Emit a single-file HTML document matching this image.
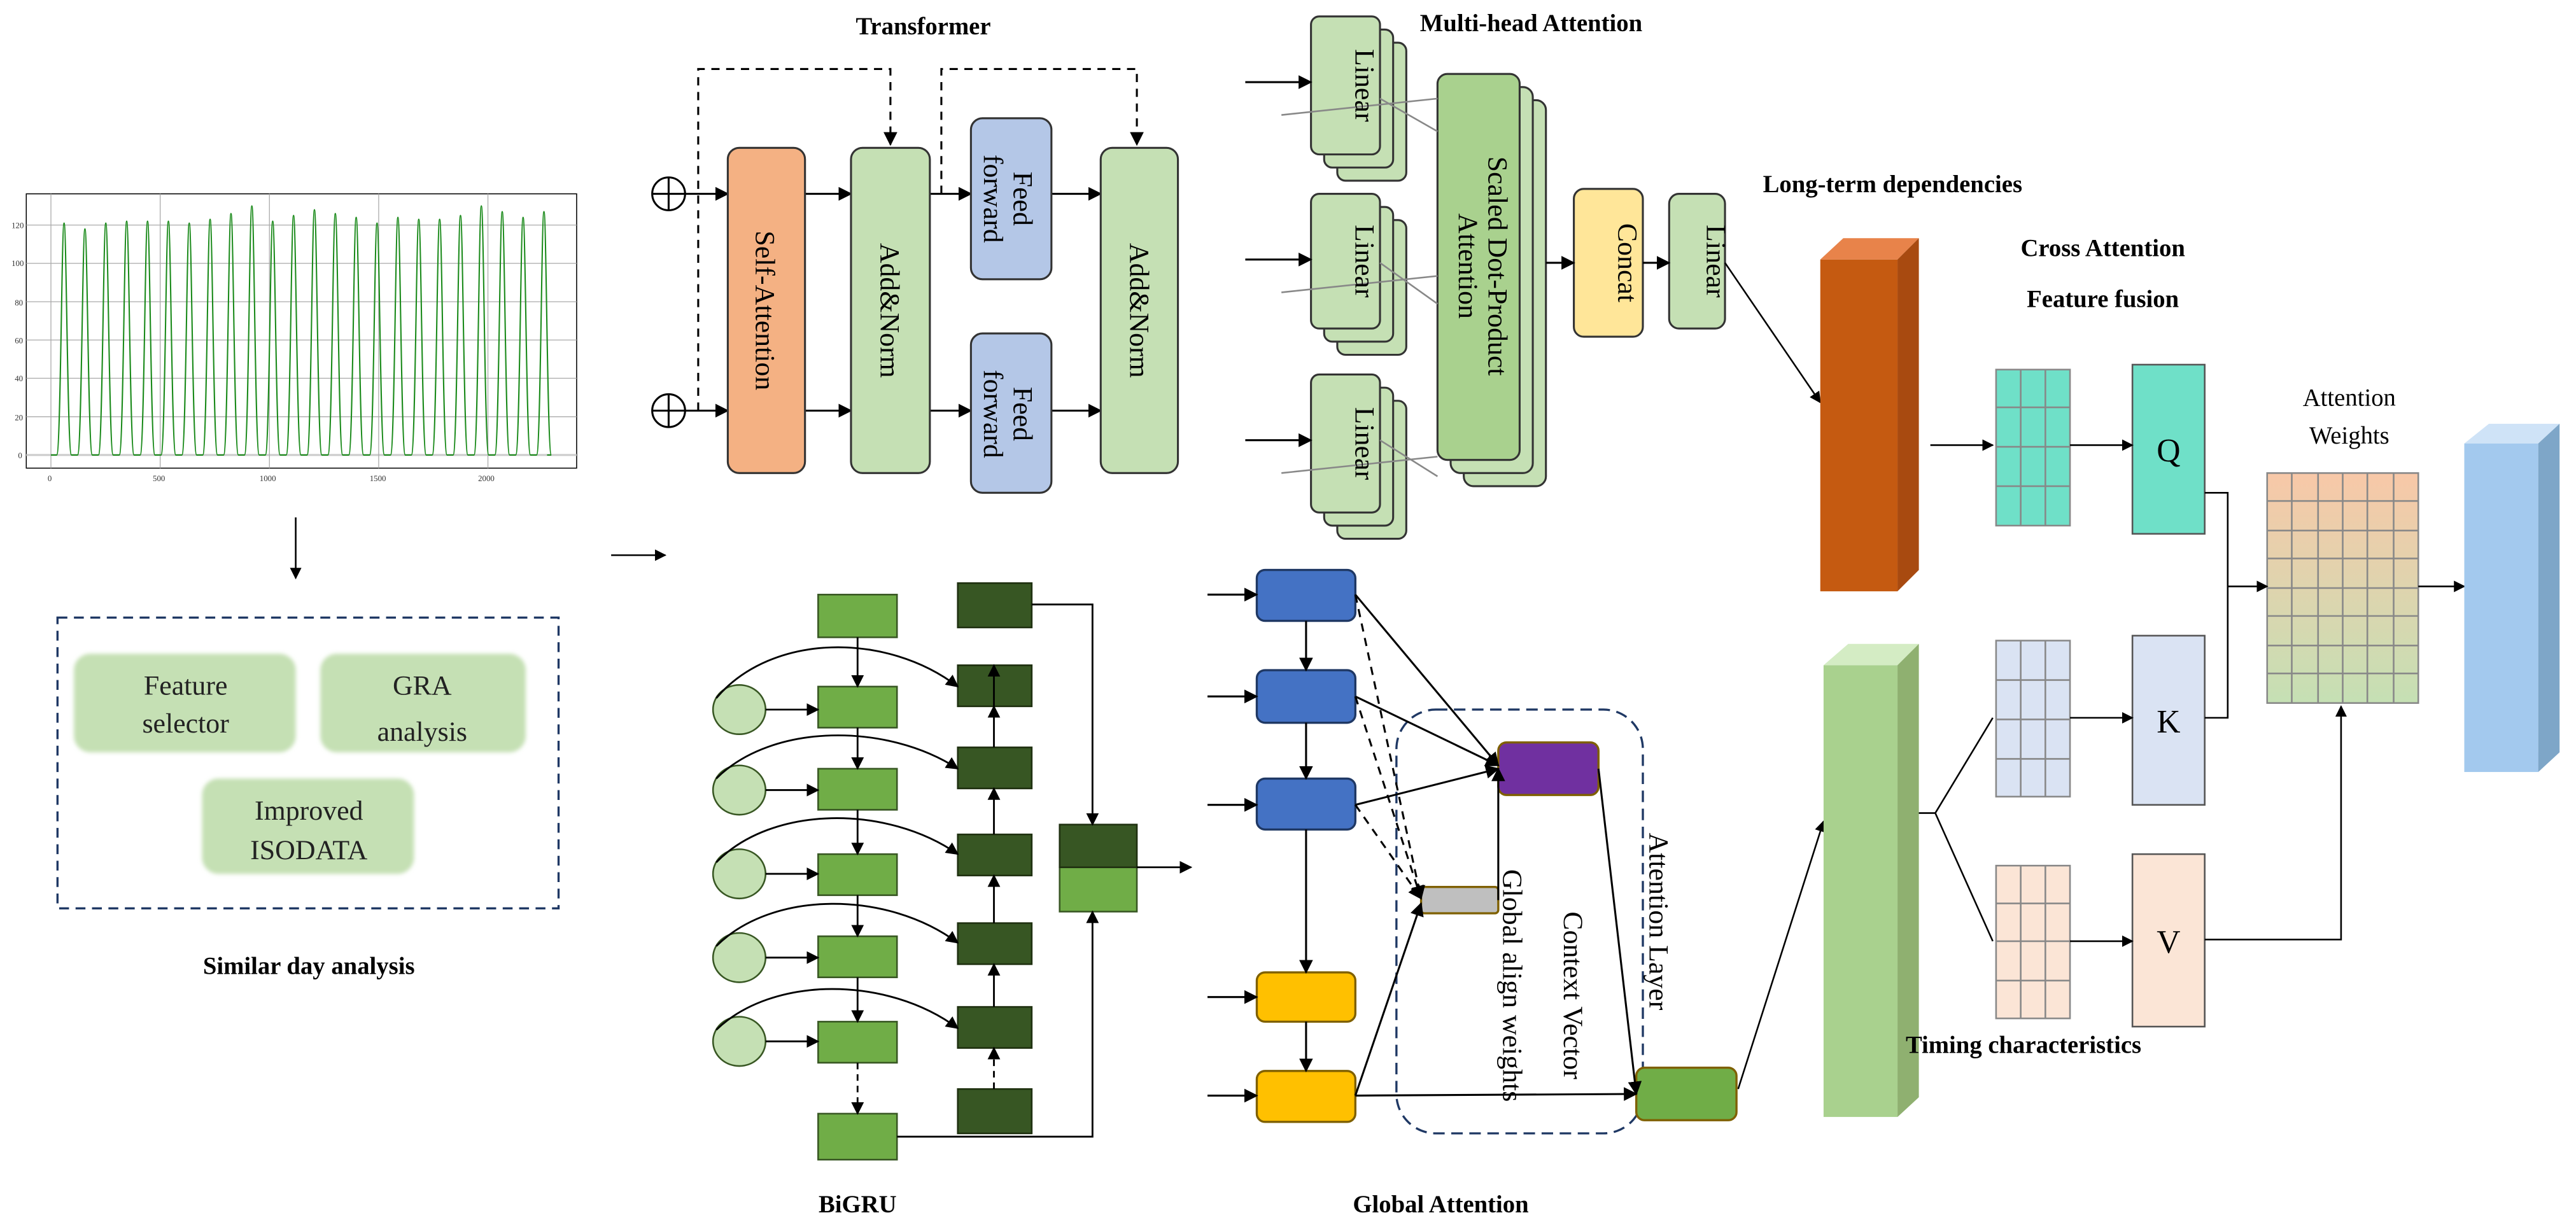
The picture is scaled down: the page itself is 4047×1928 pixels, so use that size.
<!DOCTYPE html>
<html><head><meta charset="utf-8"><style>
html,body{margin:0;padding:0;background:#fff;}
svg{display:block;}
text{font-family:"Liberation Serif",serif;}
.b{font-weight:bold;font-size:15px;}
.l{font-size:17px;}
</style></head><body>
<svg width="4047" height="1928" viewBox="0 0 1568 747" preserveAspectRatio="none" xmlns="http://www.w3.org/2000/svg">
<defs>
<marker id="a" viewBox="0 0 10 10" refX="9" refY="5" markerWidth="7" markerHeight="7" orient="auto-start-reverse"><path d="M0,0L10,5L0,10z" fill="#000"/></marker>
<linearGradient id="gw" x1="0" y1="0" x2="0" y2="1"><stop offset="0" stop-color="#f8c8a8"/><stop offset="1" stop-color="#c5e0b4"/></linearGradient>
<filter id="soft"><feGaussianBlur stdDeviation="1.2"/></filter>
</defs>
<rect width="1568" height="747" fill="#fff"/>

<!-- chart -->
<g>
<rect x="16" y="118" width="335" height="167" fill="#fff" stroke="#000" stroke-width="0.6"/>
<g stroke="#aaa" stroke-width="0.5">
<line x1="16" y1="137" x2="351" y2="137"/><line x1="16" y1="160.3" x2="351" y2="160.3"/><line x1="16" y1="183.7" x2="351" y2="183.7"/><line x1="16" y1="207" x2="351" y2="207"/><line x1="16" y1="230.3" x2="351" y2="230.3"/><line x1="16" y1="253.7" x2="351" y2="253.7"/><line x1="16" y1="277" x2="351" y2="277" stroke="#ccc" stroke-width="1.2"/>
<line x1="31" y1="118" x2="31" y2="285"/><line x1="97.5" y1="118" x2="97.5" y2="285"/><line x1="164" y1="118" x2="164" y2="285"/><line x1="230.5" y1="118" x2="230.5" y2="285"/><line x1="297" y1="118" x2="297" y2="285"/>
</g>
<g font-size="5" fill="#333" font-family="Liberation Sans,sans-serif">
<text x="7" y="139">120</text><text x="7" y="162">100</text><text x="9" y="186">80</text><text x="9" y="209">60</text><text x="9" y="232">40</text><text x="9" y="256">20</text><text x="11" y="279">0</text>
<text x="29" y="293">0</text><text x="93" y="293">500</text><text x="158" y="293">1000</text><text x="225" y="293">1500</text><text x="291" y="293">2000</text>
</g>
<path id="wave" fill="none" stroke="#1a8a1a" stroke-width="0.8" d=""/>
</g>
<line x1="180" y1="315" x2="180" y2="352" stroke="#000" stroke-width="1" marker-end="url(#a)"/>

<!-- similar day -->
<rect x="35" y="376" width="305" height="177" fill="none" stroke="#1f3864" stroke-width="1.3" stroke-dasharray="6,4"/>
<g fill="#c5e0b4" filter="url(#soft)">
<rect x="45" y="398" width="135" height="60" rx="10"/><rect x="195" y="398" width="125" height="60" rx="10"/><rect x="123" y="474" width="129" height="58" rx="10"/>
</g>
<g class="l" text-anchor="middle" fill="#222">
<text x="113" y="423">Feature</text><text x="113" y="446">selector</text>
<text x="257" y="423">GRA</text><text x="257" y="451">analysis</text>
<text x="188" y="499">Improved</text><text x="188" y="523">ISODATA</text>
</g>
<text x="188" y="593" class="b" text-anchor="middle">Similar day analysis</text>
<line x1="372" y1="338" x2="405" y2="338" stroke="#000" marker-end="url(#a)"/>

<!-- Transformer -->
<text x="562" y="21" class="b" text-anchor="middle">Transformer</text>
<g fill="none" stroke="#000" stroke-width="1.2">
<circle cx="407" cy="118" r="10"/><line x1="397" y1="118" x2="417" y2="118"/><line x1="407" y1="108" x2="407" y2="128"/>
<circle cx="407" cy="250" r="10"/><line x1="397" y1="250" x2="417" y2="250"/><line x1="407" y1="240" x2="407" y2="260"/>
</g>
<g stroke="#000" stroke-width="1.2" fill="none">
<line x1="417" y1="118" x2="443" y2="118" marker-end="url(#a)"/>
<line x1="417" y1="250" x2="443" y2="250" marker-end="url(#a)"/>
<line x1="490" y1="118" x2="518" y2="118" marker-end="url(#a)"/>
<line x1="490" y1="250" x2="518" y2="250" marker-end="url(#a)"/>
<line x1="566" y1="118" x2="591" y2="118" marker-end="url(#a)"/>
<line x1="566" y1="250" x2="591" y2="250" marker-end="url(#a)"/>
<line x1="640" y1="118" x2="670" y2="118" marker-end="url(#a)"/>
<line x1="640" y1="250" x2="670" y2="250" marker-end="url(#a)"/>
<path d="M425,250V42H542V88" stroke-dasharray="5,4" marker-end="url(#a)"/>
<path d="M573,118V42H692V88" stroke-dasharray="5,4" marker-end="url(#a)"/>
</g>
<g stroke="#333" stroke-width="1.2">
<rect x="443" y="90" width="47" height="198" rx="7" fill="#f4b183"/>
<rect x="518" y="90" width="48" height="198" rx="7" fill="#c5e0b4"/>
<rect x="591" y="72" width="49" height="98" rx="7" fill="#b4c7e7"/>
<rect x="591" y="203" width="49" height="97" rx="7" fill="#b4c7e7"/>
<rect x="670" y="90" width="47" height="198" rx="7" fill="#c5e0b4"/>
</g>
<g class="l" text-anchor="middle">
<text transform="translate(460,189) rotate(90)">Self-Attention</text>
<text transform="translate(536,189) rotate(90)">Add&amp;Norm</text>
<text transform="translate(688,189) rotate(90)">Add&amp;Norm</text>
<text transform="translate(617,121) rotate(90)">Feed</text><text transform="translate(599,121) rotate(90)">forward</text>
<text transform="translate(617,252) rotate(90)">Feed</text><text transform="translate(599,252) rotate(90)">forward</text>
</g>

<!-- Multi-head -->
<text x="932" y="19" class="b" text-anchor="middle">Multi-head Attention</text>
<g stroke="#333" stroke-width="1.2" fill="#c5e0b4">
<rect x="814" y="26" width="42" height="84" rx="5"/><rect x="806" y="18" width="42" height="84" rx="5"/><rect x="798" y="10" width="42" height="84" rx="5"/>
<rect x="814" y="134" width="42" height="82" rx="5"/><rect x="806" y="126" width="42" height="82" rx="5"/><rect x="798" y="118" width="42" height="82" rx="5"/>
<rect x="814" y="244" width="42" height="84" rx="5"/><rect x="806" y="236" width="42" height="84" rx="5"/><rect x="798" y="228" width="42" height="84" rx="5"/>
<rect x="891" y="61" width="50" height="235" rx="6"/><rect x="883" y="53" width="50" height="235" rx="6"/><rect x="875" y="45" width="50" height="235" rx="6" fill="#a9d18e"/>
<rect x="958" y="115" width="42" height="90" rx="6" fill="#ffe699"/>
<rect x="1016" y="118" width="34" height="82" rx="6"/>
</g>
<g stroke="#888" stroke-width="1">
<line x1="780" y1="70" x2="875" y2="60"/><line x1="840" y1="60" x2="875" y2="80"/>
<line x1="780" y1="178" x2="875" y2="168"/><line x1="840" y1="160" x2="875" y2="185"/>
<line x1="780" y1="288" x2="875" y2="278"/><line x1="840" y1="268" x2="875" y2="290"/>
</g>
<g stroke="#000" stroke-width="1.2">
<line x1="758" y1="50" x2="798" y2="50" marker-end="url(#a)"/>
<line x1="758" y1="158" x2="798" y2="158" marker-end="url(#a)"/>
<line x1="758" y1="268" x2="798" y2="268" marker-end="url(#a)"/>
<line x1="941" y1="160" x2="958" y2="160" marker-end="url(#a)"/>
<line x1="1000" y1="160" x2="1016" y2="160" marker-end="url(#a)"/>
<line x1="1050" y1="160" x2="1108" y2="245" stroke-width="1" marker-end="url(#a)"/>
</g>
<g class="l" text-anchor="middle">
<text transform="translate(825,52) rotate(90)">Linear</text>
<text transform="translate(825,159) rotate(90)">Linear</text>
<text transform="translate(825,270) rotate(90)">Linear</text>
<text transform="translate(906,162) rotate(90)">Scaled Dot-Product</text>
<text transform="translate(888,162) rotate(90)">Attention</text>
<text transform="translate(985,160) rotate(90)">Concat</text>
<text transform="translate(1039,159) rotate(90)">Linear</text>
</g>
<text x="1152" y="117" class="b" text-anchor="middle">Long-term dependencies</text>

<!-- orange block -->
<polygon points="1108,158 1122,145 1168,145 1155,158" fill="#e8834a"/>
<polygon points="1155,158 1168,145 1168,347 1155,360" fill="#a84a10"/>
<rect x="1108" y="158" width="47" height="202" fill="#c55a11"/>

<text x="1280" y="156" class="b" text-anchor="middle">Cross Attention</text>
<text x="1280" y="187" class="b" text-anchor="middle">Feature fusion</text>

<!-- grids -->
<g stroke="#888" stroke-width="1">
<rect x="1215" y="225" width="45" height="95" fill="#6fe0c8"/>
<rect x="1215" y="390" width="45" height="95" fill="#dae3f3"/>
<rect x="1215" y="527" width="45" height="93" fill="#fbe5d6"/>
<path d="M1230,225V320M1245,225V320M1215,248H1260M1215,272H1260M1215,296H1260" fill="none"/>
<path d="M1230,390V485M1245,390V485M1215,414H1260M1215,438H1260M1215,462H1260" fill="none"/>
<path d="M1230,527V620M1245,527V620M1215,550H1260M1215,573H1260M1215,597H1260" fill="none"/>
<rect x="1298" y="222" width="44" height="103" fill="#6fe0c8" stroke="#555"/>
<rect x="1298" y="387" width="44" height="103" fill="#dae3f3" stroke="#555"/>
<rect x="1298" y="520" width="44" height="105" fill="#fbe5d6" stroke="#555"/>
<rect x="1380" y="288" width="92" height="140" fill="url(#gw)"/>
<path d="M1395,288V428M1411,288V428M1426,288V428M1441,288V428M1457,288V428M1380,305H1472M1380,323H1472M1380,340H1472M1380,358H1472M1380,375H1472M1380,393H1472M1380,410H1472" fill="none"/>
</g>
<g font-size="20" text-anchor="middle" font-family="Liberation Serif,serif">
<text x="1320" y="281">Q</text><text x="1320" y="446">K</text><text x="1320" y="580">V</text>
</g>
<text x="1430" y="247" font-size="15" text-anchor="middle">Attention</text>
<text x="1430" y="270" font-size="15" text-anchor="middle">Weights</text>
<g stroke="#000" stroke-width="1" fill="none">
<line x1="1175" y1="271" x2="1213" y2="271" marker-end="url(#a)"/>
<line x1="1260" y1="271" x2="1298" y2="271" marker-end="url(#a)"/>
<line x1="1260" y1="437" x2="1298" y2="437" marker-end="url(#a)"/>
<line x1="1260" y1="573" x2="1298" y2="573" marker-end="url(#a)"/>
<path d="M1342,300H1356V437H1342"/>
<line x1="1356" y1="357" x2="1380" y2="357" marker-end="url(#a)"/>
<path d="M1342,572H1425V430" marker-end="url(#a)"/>
<line x1="1472" y1="357" x2="1500" y2="357" marker-end="url(#a)"/>
<path d="M1213,437L1178,495L1213,573"/>
<path d="M1160,495H1178"/>
<line x1="1058" y1="663" x2="1110" y2="500" marker-end="url(#a)"/>
</g>
<!-- blue block -->
<polygon points="1500,270 1515,258 1558,258 1545,270" fill="#cfe3f7"/>
<polygon points="1545,270 1558,258 1558,458 1545,470" fill="#7ea6c8"/>
<rect x="1500" y="270" width="45" height="200" fill="#a3c9ee"/>
<!-- green block -->
<polygon points="1110,405 1125,392 1168,392 1155,405" fill="#d4ecc4"/>
<polygon points="1155,405 1168,392 1168,668 1155,680" fill="#8fb070"/>
<rect x="1110" y="405" width="45" height="275" fill="#a9d18e"/>
<text x="1160" y="641" class="b">Timing characteristics</text>

<!-- BiGRU -->
<g fill="#c5e0b4" stroke="#385723" stroke-width="1">
<ellipse cx="450" cy="432" rx="16" ry="15"/><ellipse cx="450" cy="481" rx="16" ry="15"/><ellipse cx="450" cy="532" rx="16" ry="15"/><ellipse cx="450" cy="583" rx="16" ry="15"/><ellipse cx="450" cy="634" rx="16" ry="15"/>
</g>
<g fill="#70ad47" stroke="#385723" stroke-width="1">
<rect x="498" y="362" width="48" height="26"/><rect x="498" y="418" width="48" height="25"/><rect x="498" y="468" width="48" height="25"/><rect x="498" y="520" width="48" height="25"/><rect x="498" y="570" width="48" height="25"/><rect x="498" y="622" width="48" height="25"/><rect x="498" y="678" width="48" height="28"/>
<rect x="645" y="528" width="47" height="27"/>
</g>
<g fill="#375623" stroke="#1f3010" stroke-width="1">
<rect x="583" y="355" width="45" height="27"/><rect x="583" y="405" width="45" height="25"/><rect x="583" y="455" width="45" height="25"/><rect x="583" y="508" width="45" height="25"/><rect x="583" y="562" width="45" height="25"/><rect x="583" y="613" width="45" height="25"/><rect x="583" y="663" width="45" height="27"/>
<rect x="645" y="502" width="47" height="26"/>
</g>
<g stroke="#000" stroke-width="1.1" fill="none">
<line x1="466" y1="432" x2="498" y2="432" marker-end="url(#a)"/><line x1="466" y1="481" x2="498" y2="481" marker-end="url(#a)"/><line x1="466" y1="532" x2="498" y2="532" marker-end="url(#a)"/><line x1="466" y1="583" x2="498" y2="583" marker-end="url(#a)"/><line x1="466" y1="634" x2="498" y2="634" marker-end="url(#a)"/>
<line x1="522" y1="388" x2="522" y2="418" marker-end="url(#a)"/><line x1="522" y1="443" x2="522" y2="468" marker-end="url(#a)"/><line x1="522" y1="493" x2="522" y2="520" marker-end="url(#a)"/><line x1="522" y1="545" x2="522" y2="570" marker-end="url(#a)"/><line x1="522" y1="595" x2="522" y2="622" marker-end="url(#a)"/><line x1="522" y1="647" x2="522" y2="678" stroke-dasharray="4,3" marker-end="url(#a)"/>
<line x1="605" y1="430" x2="605" y2="405" marker-end="url(#a)"/><line x1="605" y1="455" x2="605" y2="430" marker-end="url(#a)"/><line x1="605" y1="508" x2="605" y2="480" marker-end="url(#a)"/><line x1="605" y1="562" x2="605" y2="533" marker-end="url(#a)"/><line x1="605" y1="613" x2="605" y2="587" marker-end="url(#a)"/><line x1="605" y1="663" x2="605" y2="638" stroke-dasharray="4,3" marker-end="url(#a)"/>
<path d="M436,425C470,385 540,385 583,418" marker-end="url(#a)"/>
<path d="M436,474C470,440 540,440 583,468" marker-end="url(#a)"/>
<path d="M436,525C470,490 540,490 583,520" marker-end="url(#a)"/>
<path d="M436,576C470,542 540,542 583,574" marker-end="url(#a)"/>
<path d="M436,627C470,594 540,594 583,626" marker-end="url(#a)"/>
<path d="M628,368H665V502" marker-end="url(#a)"/>
<path d="M546,692H665V555" marker-end="url(#a)"/>
<line x1="692" y1="528" x2="725" y2="528" marker-end="url(#a)"/>
</g>
<text x="522" y="738" class="b" text-anchor="middle">BiGRU</text>

<!-- Global attention -->
<rect x="850" y="432" width="150" height="258" rx="24" fill="none" stroke="#1f3864" stroke-width="1.3" stroke-dasharray="7,4"/>
<g stroke-width="1.3">
<rect x="765" y="347" width="60" height="31" rx="5" fill="#4472c4" stroke="#1f3864"/>
<rect x="765" y="408" width="60" height="32" rx="5" fill="#4472c4" stroke="#1f3864"/>
<rect x="765" y="474" width="60" height="31" rx="5" fill="#4472c4" stroke="#1f3864"/>
<rect x="765" y="592" width="60" height="30" rx="5" fill="#ffc000" stroke="#7f6000"/>
<rect x="765" y="652" width="60" height="31" rx="5" fill="#ffc000" stroke="#7f6000"/>
<rect x="912" y="452" width="61" height="32" rx="5" fill="#7030a0" stroke="#7f6000"/>
<rect x="865" y="540" width="47" height="16" rx="2" fill="#bfbfbf" stroke="#7f6000"/>
<rect x="996" y="650" width="61" height="32" rx="5" fill="#70ad47" stroke="#7f6000"/>
</g>
<g stroke="#000" stroke-width="1.2" fill="none">
<line x1="735" y1="362" x2="765" y2="362" marker-end="url(#a)"/><line x1="735" y1="424" x2="765" y2="424" marker-end="url(#a)"/><line x1="735" y1="490" x2="765" y2="490" marker-end="url(#a)"/><line x1="735" y1="607" x2="765" y2="607" marker-end="url(#a)"/><line x1="735" y1="667" x2="765" y2="667" marker-end="url(#a)"/>
<line x1="795" y1="378" x2="795" y2="408" marker-end="url(#a)"/><line x1="795" y1="440" x2="795" y2="474" marker-end="url(#a)"/><line x1="795" y1="505" x2="795" y2="592" marker-end="url(#a)"/><line x1="795" y1="622" x2="795" y2="652" marker-end="url(#a)"/>
<line x1="825" y1="362" x2="912" y2="466" marker-end="url(#a)"/>
<line x1="825" y1="424" x2="912" y2="466" marker-end="url(#a)"/>
<line x1="825" y1="490" x2="912" y2="468" marker-end="url(#a)"/>
<line x1="825" y1="362" x2="865" y2="547" stroke-dasharray="5,4" marker-end="url(#a)"/>
<line x1="825" y1="424" x2="865" y2="547" stroke-dasharray="5,4" marker-end="url(#a)"/>
<line x1="825" y1="490" x2="865" y2="547" stroke-dasharray="5,4" marker-end="url(#a)"/>
<line x1="825" y1="667" x2="865" y2="550" marker-end="url(#a)"/>
<path d="M912,548V468" marker-end="url(#a)"/>
<line x1="973" y1="468" x2="996" y2="666" marker-end="url(#a)"/>
<line x1="825" y1="667" x2="996" y2="666" marker-end="url(#a)"/>
</g>
<g font-size="17" text-anchor="middle">
<text transform="translate(1004,561) rotate(90)">Attention Layer</text>
<text transform="translate(952,606) rotate(90)">Context Vector</text>
<text transform="translate(915,600) rotate(90)">Global align weights</text>
</g>
<text x="877" y="738" class="b" text-anchor="middle">Global Attention</text>
</svg>
<script>
(function(){
var d="",x0=31,per=12.7,n=24,base=277;
var peaks=[121,118,121,122,122,122,121,123,126,130,122,125,128,126,124,121,124,123,123,125,130,127,124,127];
d+="M"+x0+","+base;
for(var i=0;i<n;i++){
 var c=39+i*per, h=peaks[i], py=base-h*140/120;
 var s=c-4.5, e=c+4.5;
 d+=" L"+(s).toFixed(2)+","+base+" C"+(s+2.5).toFixed(2)+","+base+" "+(c-1.5).toFixed(2)+","+py.toFixed(2)+" "+c.toFixed(2)+","+py.toFixed(2)+" C"+(c+1.5).toFixed(2)+","+py.toFixed(2)+" "+(e-2.5).toFixed(2)+","+base+" "+e.toFixed(2)+","+base;
}
d+=" L333,"+base;
document.getElementById("wave").setAttribute("d",d);
})();
</script>
</body></html>
